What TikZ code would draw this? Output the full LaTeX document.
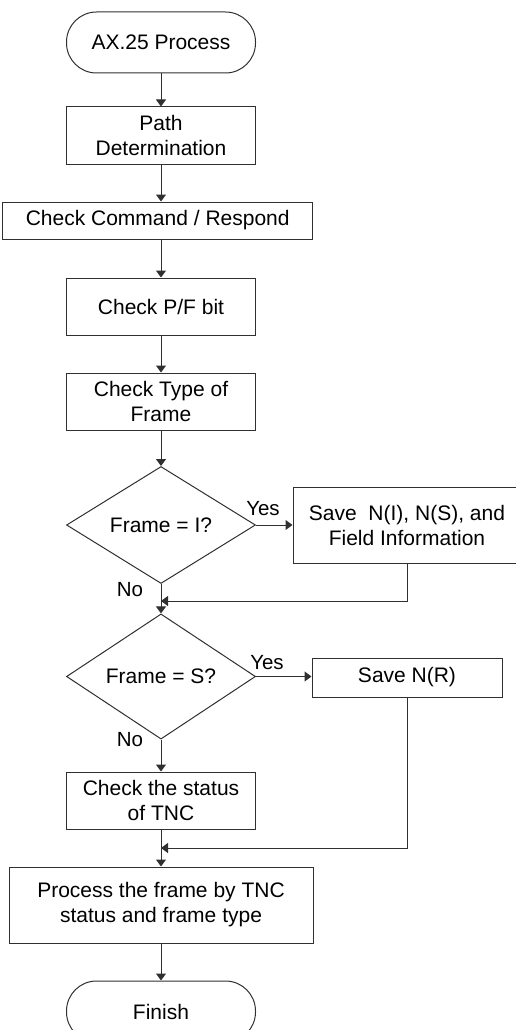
\documentclass[tikz,border=0pt]{standalone}
\usepackage{fontspec}
\setmainfont{Liberation Sans}
\usetikzlibrary{shapes.geometric,arrows.meta}
\definecolor{linec}{HTML}{303030}
\begin{document}
\begin{tikzpicture}[x=1pt,y=-1pt,line width=1pt,
  box/.style={draw=linec, rectangle, inner sep=0pt, align=center, font=\fontsize{21}{25}\selectfont},
  term/.style={box, rounded corners=30pt, minimum width=189pt, minimum height=61pt},
  dec/.style={draw=linec, diamond, inner sep=0pt, minimum width=189pt, minimum height=114pt, font=\fontsize{21}{25}\selectfont},
  arr/.style={draw=linec, -{Triangle[width=10pt,length=7pt]}},
  lbl/.style={inner sep=0pt, font=\fontsize{20.5}{24}\selectfont}]
\useasboundingbox (0,0) rectangle (516,1030);
\clip (0,0) rectangle (516,1030);
\node[term] (start) at (161,42.5) {AX.25 Process};
\node[box, minimum width=189pt, minimum height=57pt] (path) at (161,135.5) {Path\\Determination};
\node[box, minimum width=310pt, minimum height=37pt] (cmd) at (157.7,220.5) {Check Command / Respond};
\node[box, minimum width=189pt, minimum height=57pt] (pf) at (161,306.5) {Check P/F bit};
\node[box, minimum width=189pt, minimum height=57pt] (type) at (161,401.5) {Check Type of\\Frame};
\node[dec] (d1) at (161,525) {Frame = I?};
\node[box, minimum width=228pt, minimum height=76pt] (savei) at (407,525) {Save\ \ N(I), N(S), and\\Field Information};
\node[dec] (d2) at (161,676.5) {Frame = S?};
\node[box, minimum width=190pt, minimum height=39pt] (saver) at (407,677.5) {Save N(R)};
\node[box, minimum width=189pt, minimum height=57pt] (status) at (161,800.5) {Check the status\\of TNC};
\node[box, minimum width=304pt, minimum height=76pt] (proc) at (161,905) {Process the frame by TNC\\status and frame type};
\node[term] (finish) at (161,1011.5) {Finish};
\coordinate (j1) at (161,601);
\coordinate (j2) at (161,848);
\node[lbl] (yes1) at (263,509) {Yes};
\node[lbl] (no1) at (130,590) {No};
\node[lbl] (yes2) at (267,663) {Yes};
\node[lbl] (no2) at (130,740) {No};
\draw[arr] (start.south) -- (path.north);
\draw[arr] (path.south) -- (path.south |- cmd.north);
\draw[arr] (pf.north |- cmd.south) -- (pf.north);
\draw[arr] (pf.south) -- (type.north);
\draw[arr] (type.south) -- (d1.north);
\draw[arr] (d1.east) -- (savei.west);
\draw[arr] (d1.south) -- (d2.north);
\draw[arr] (savei.south) -- (savei.south |- j1) -- (j1);
\draw[arr] (d2.east) -- (d2.east -| saver.west);
\draw[arr] (d2.south) -- (status.north);
\draw[arr] (saver.south) -- (saver.south |- j2) -- (j2);
\draw[arr] (status.south) -- (proc.north);
\draw[arr] (proc.south) -- (finish.north);
\end{tikzpicture}
\end{document}
